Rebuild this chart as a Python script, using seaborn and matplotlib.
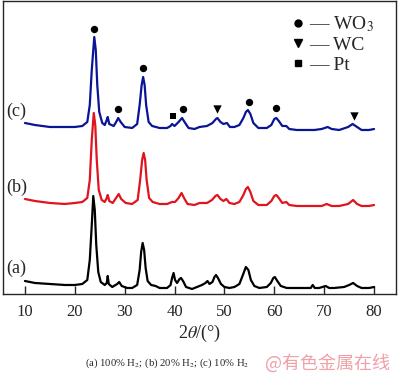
import numpy as np
import pandas as pd
import seaborn as sns
import matplotlib.pyplot as plt
from matplotlib.lines import Line2D

# ============================== DATA ==============================
# intensity is given as height above the bottom spine (arbitrary units)

BASE = 294

two_theta_a = [10, 12, 15, 18, 20, 21.5, 22.5, 23.0, 23.4, 23.7, 24.0, 24.3, 24.7, 25.2, 26.0, 26.4,
               26.6, 26.8, 27.5, 28.5, 28.9, 29.4, 30.5, 31.5, 32.5, 33.0, 33.3, 33.6, 33.9, 34.2,
               34.6, 35.3, 36.2, 37, 38.5, 39.2, 39.5, 39.8, 40.1, 40.5, 41.0, 41.3, 41.7, 42.3,
               43.5, 44.5, 45.5, 46.2, 46.6, 47.0, 47.6, 48.0, 48.3, 48.7, 49.3, 50, 51, 52, 53,
               53.7, 54.3, 54.8, 55.3, 56, 57, 58.5, 59.3, 59.8, 60.1, 60.6, 61.3, 62.5, 64, 66,
               67.3, 67.7, 68.1, 69, 70.3, 71, 72, 74, 75, 75.8, 76.6, 77.5, 79, 80]
pix_a = [281, 283, 284, 285, 285, 284, 280, 260, 225, 196, 210, 245, 272, 282, 285, 283,
         276, 284, 287, 284, 282, 286, 288, 288, 285, 270, 252, 243, 250, 268,
         281, 285, 286, 288, 288, 285, 278, 273, 280, 283, 279, 278, 281, 287,
         289, 287, 285, 283, 281, 284, 282, 277, 275, 278, 284, 287, 288, 287, 284,
         275, 267, 270, 280, 286, 288, 287, 283, 278, 277, 281, 286, 288, 288, 288,
         288, 285, 288, 288, 286, 288, 288, 287, 285, 283, 286, 288, 288, 287]

two_theta_b = [10, 12, 15, 18, 20, 21.5, 22.5, 23.0, 23.4, 23.8, 24.1, 24.4, 24.8, 25.4, 26.0, 26.4,
               26.6, 26.9, 27.6, 28.4, 28.8, 29.3, 30.2, 31.5, 32.6, 33.1, 33.5, 33.8, 34.1, 34.4,
               34.9, 35.6, 37, 38.5, 39.5, 40.1, 40.8, 41.4, 41.9, 42.6, 44, 45, 46.5, 47.5,
               48.2, 48.6, 49.2, 49.8, 50.4, 51.0, 52, 53, 53.8, 54.3, 54.7, 55.2, 55.8, 56.8,
               58.5, 59.4, 60.0, 60.4, 60.9, 61.6, 62.4, 63.0, 64.5, 66, 68, 69.5, 70.5, 71.5,
               73, 74.8, 75.8, 76.6, 77.5, 79, 80]
pix_b = [199, 201, 203, 204, 203, 202, 198, 180, 140, 113, 125, 160, 190, 200, 202, 198,
         195, 201, 203, 197, 194, 199, 203, 204, 200, 180, 160, 153, 160, 180,
         198, 202, 204, 204, 202, 202, 198, 193, 198, 204, 205, 203, 203, 200,
         196, 195, 199, 201, 199, 203, 204, 202, 195, 189, 187, 192, 201, 205,
         205, 201, 196, 195, 198, 203, 202, 205, 206, 206, 206, 206, 204, 206,
         206, 204, 200, 204, 206, 206, 205]

two_theta_c = [10, 12, 15, 18, 20, 21.5, 22.5, 23.0, 23.4, 23.9, 24.2, 24.5, 24.9, 25.5, 26.0, 26.4,
               26.6, 26.9, 27.8, 28.4, 28.7, 29.2, 30.0, 31.5, 32.5, 33.0, 33.4, 33.7, 34.0, 34.3,
               34.8, 35.5, 37, 38.5, 39.2, 39.5, 40.0, 40.8, 41.5, 42.0, 42.8, 44, 45, 46.5,
               47.6, 48.3, 48.6, 49.2, 49.8, 50.5, 51.1, 52, 53, 53.8, 54.3, 54.7, 55.2, 55.8,
               56.8, 58.5, 59.4, 60.0, 60.4, 60.9, 61.6, 62.4, 63.0, 64.5, 66, 68, 69.5, 70.7,
               71.5, 73, 74.8, 75.7, 76.6, 77.5, 79, 80]
pix_c = [123, 125, 127, 127, 127, 126, 122, 105, 70, 37, 50, 85, 112, 123, 125, 120,
         117, 124, 126, 121, 118, 122, 127, 128, 124, 105, 85, 77, 85, 105,
         122, 126, 128, 128, 126, 124, 126, 122, 118, 122, 128, 129, 127, 126,
         123, 119, 118, 122, 124, 123, 127, 127, 125, 118, 112, 110, 114, 123,
         128, 128, 125, 119, 118, 121, 126, 126, 129, 130, 130, 130, 129, 127,
         129, 130, 127, 124, 127, 130, 130, 129]

# phase markers above curve (c)
wo3_theta = [23.8, 28.7, 33.7, 41.7, 54.9, 60.3]
wo3_pix = [29, 109, 68, 109, 102, 108]
wc_theta = [48.5, 75.9]
wc_pix = [109, 116]
pt_theta = [39.7]
pt_pix = [116]

curve_labels = ['(a)', '(b)', '(c)']
curve_label_pix = [268, 187, 111]
x_ticks = [10, 20, 30, 40, 50, 60, 70, 80]


def to_height(pix):
    return [BASE - p for p in pix]


# ============================== PLOT ==============================

sns.set_style('ticks')
plt.rcParams['font.family'] = ['Liberation Serif', 'DejaVu Serif']
plt.rcParams['mathtext.fontset'] = 'stix'

fig = plt.figure(figsize=(4.0, 3.85), dpi=100)
ax = fig.add_axes([0.0075, 0.2364, 0.9825, 0.761])

curves = [(two_theta_a, pix_a, 'black'),
          (two_theta_b, pix_b, '#e0141e'),
          (two_theta_c, pix_c, '#0a1496')]
for xs, ps, color in curves:
    df = pd.DataFrame({'two_theta': xs, 'height': to_height(ps)})
    sns.lineplot(data=df, x='two_theta', y='height', color=color, lw=1.6, sort=False, ax=ax)

sns.scatterplot(x=wo3_theta, y=to_height(wo3_pix), marker='o', s=28, color='black', linewidth=0, ax=ax)
sns.scatterplot(x=wc_theta, y=to_height(wc_pix), marker='v', s=36, color='black', linewidth=0, ax=ax)
sns.scatterplot(x=pt_theta, y=to_height(pt_pix), marker='s', s=22, color='black', linewidth=0, ax=ax)

for label, pix in zip(curve_labels, curve_label_pix):
    ax.text(6.2, BASE - pix, label, fontsize=13, va='center', ha='left')

handles = [Line2D([], [], ls='none', marker='o', ms=5, color='black'),
           Line2D([], [], ls='none', marker='v', ms=6, color='black'),
           Line2D([], [], ls='none', marker='s', ms=4.5, color='black')]
ax.legend(handles, ['— WO$_3$', '— WC', '— Pt'], loc='upper left',
          bbox_to_anchor=(0.70, 1.0), frameon=False, fontsize=14,
          handlelength=0.6, handletextpad=0.3, labelspacing=0.12, borderpad=0.2)

ax.set_xlim(5.6, 84.4)
ax.set_ylim(0, 293)
ax.set_xticks(x_ticks)
ax.set_yticks([])
ax.tick_params(axis='x', direction='in', length=6, width=1, labelsize=12, pad=7)
ax.set_xlabel('2$\\theta$/(°)', fontsize=13, labelpad=2)
ax.set_ylabel('')
for spine in ax.spines.values():
    spine.set_visible(True)
    spine.set_linewidth(1)

fig.text(0.417, 0.057, '(a) 100% H$_2$; (b) 20% H$_2$; (c) 10% H$_2$', fontsize=7.7, ha='center', va='center')
fig.text(0.975, 0.057, '@有色金属在线', fontsize=13, ha='right', va='center', color='#f0a0a8',
         family=['Noto Sans CJK SC', 'DejaVu Sans'])

fig.savefig('out.png', dpi=100)
